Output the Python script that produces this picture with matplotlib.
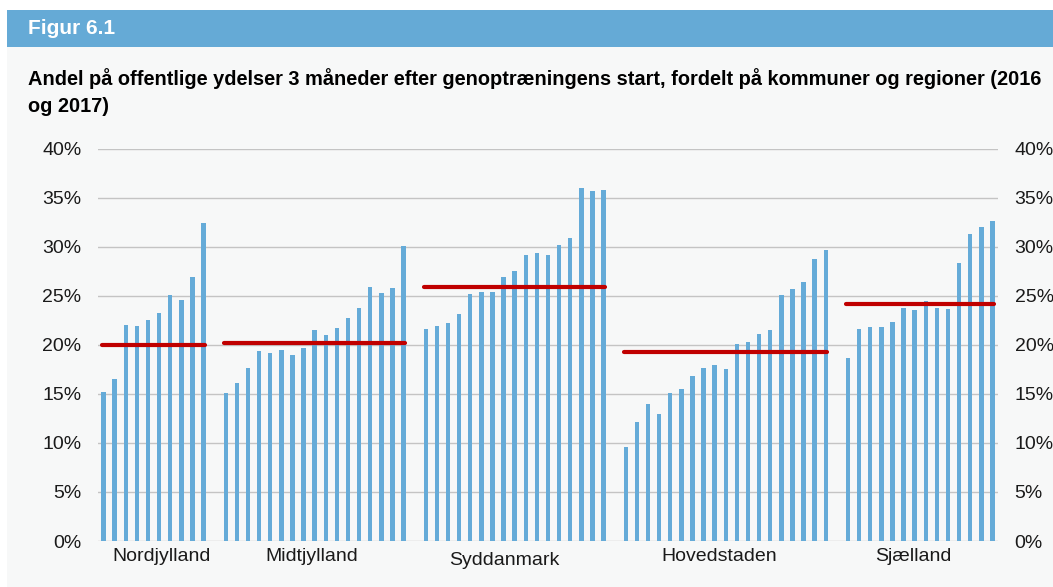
#Andel paa offentlige ydelser 3 maaneder efter genoptraeningens start,
#fordelt paa kommuner og regioner (Figur 6.1)

import matplotlib
matplotlib.use("Agg")
import matplotlib.pyplot as plt
from matplotlib.patches import Rectangle
from matplotlib.ticker import FuncFormatter, MultipleLocator
import matplotlib.transforms as mtransforms
import numpy as np

#Regions and the share (%) for each kommune
regions = ["Nordjylland", "Midtjylland", "Syddanmark", "Hovedstaden", "Sjælland"]
nordjylland = [15.2, 16.5, 22.0, 21.9, 22.5, 23.2, 25.1, 24.6, 26.9, 32.4]
midtjylland = [15.1, 16.1, 17.6, 19.4, 19.2, 19.5, 19.0, 19.7, 21.5, 21.0,
               21.7, 22.7, 23.7, 25.9, 25.3, 25.8, 30.1]
syddanmark = [21.6, 21.9, 22.2, 23.1, 25.2, 25.4, 25.4, 26.9, 27.5, 29.1,
              29.3, 29.1, 30.2, 30.9, 36.0, 35.7, 35.8]
hovedstaden = [9.6, 12.1, 14.0, 12.9, 15.1, 15.5, 16.8, 17.6, 17.9, 17.5,
               20.1, 20.3, 21.1, 21.5, 25.1, 25.7, 26.4, 28.7, 29.7]
sjaelland = [18.6, 21.6, 21.8, 21.8, 22.3, 23.7, 23.5, 24.5, 23.7, 23.6,
             28.3, 31.3, 32.0, 32.6]
#Regional averages (red lines)
region_avg = [20.0, 20.2, 25.9, 19.3, 24.2]

groups = [nordjylland, midtjylland, syddanmark, hovedstaden, sjaelland]

#Label shift (in bar slots) relative to the group centre, like the original
label_shift = [0.7, -0.3, -0.95, -0.6, -0.65]

bar_color = "#65abd8"
red = "#c00000"
bg = "#f7f8f8"
W, H = 1053, 587

plt.rcParams['font.family'] = ['Liberation Sans', 'DejaVu Sans']

fig = plt.figure(figsize=(W / 100, H / 100), dpi=100)
fig.patch.set_facecolor(bg)

#White strip on top/left and the blue header band
fig.patches.append(Rectangle((0, 1 - 10 / H), 1, 10 / H, transform=fig.transFigure,
                             facecolor="white", edgecolor="none", zorder=0))
fig.patches.append(Rectangle((0, 0), 7 / W, 1, transform=fig.transFigure,
                             facecolor="white", edgecolor="none", zorder=0))
fig.patches.append(Rectangle((7 / W, 1 - 46.5 / H), 1, 36.5 / H, transform=fig.transFigure,
                             facecolor="#65aad6", edgecolor="none", zorder=0))
fig.text(28 / W, 1 - 29 / H, "Figur 6.1", color="white", fontsize=15,
         fontweight="bold", va="center", ha="left")
fig.text(28 / W, 1 - 77 / H, "Andel på offentlige ydelser 3 måneder efter genoptræningens "
         "start, fordelt på kommuner og regioner (2016", fontsize=14.4, fontweight="bold",
         va="center_baseline", ha="left")
fig.text(28 / W, 1 - 105 / H, "og 2017)", fontsize=14.4, fontweight="bold",
         va="center_baseline", ha="left")

ax = fig.add_axes([98 / W, 1 - 541 / H, 900 / W, (541 - 148.5) / H])
ax.set_facecolor(bg)

#Lay the bars out with one empty slot between regions
pos = 0
label_pos = []
for vals, avg, shift in zip(groups, region_avg, label_shift):
    x = np.arange(pos, pos + len(vals))
    ax.bar(x, np.array(vals) / 100, width=0.4, color=bar_color, zorder=2)
    ax.plot([x[0] - 0.15, x[-1] + 0.15], [avg / 100, avg / 100], color=red,
            linewidth=3, solid_capstyle="round", zorder=3)
    label_pos.append((x[0] + x[-1]) / 2 + shift)
    pos += len(vals) + 1

ax.set_xlim(-0.5, pos - 1.5)
ax.set_ylim(0, 0.40)
ax.yaxis.set_major_locator(MultipleLocator(0.05))
ax.yaxis.set_major_formatter(FuncFormatter(lambda v, p: "%d%%" % round(v * 100)))
ax.grid(axis="y", color="#c4c4c4", linewidth=1, zorder=0)
ax.set_axisbelow(True)
for s in ax.spines.values():
    s.set_visible(False)

ax.set_xticks(label_pos)
ax.set_xticklabels(regions, fontsize=14)
ax.tick_params(axis="x", length=0, pad=5, colors="#1a1a1a")
ax.tick_params(axis="y", length=0, labelsize=14, pad=12, left=False, right=False,
               labelleft=True, labelright=True, colors="#1a1a1a")

#Syddanmark sits a little lower in the original
lbl = ax.get_xticklabels()[2]
lbl.set_transform(lbl.get_transform() + mtransforms.ScaledTranslation(0, -4 / 100, fig.dpi_scale_trans))

fig.savefig("out.png", dpi=100, facecolor=fig.get_facecolor())
